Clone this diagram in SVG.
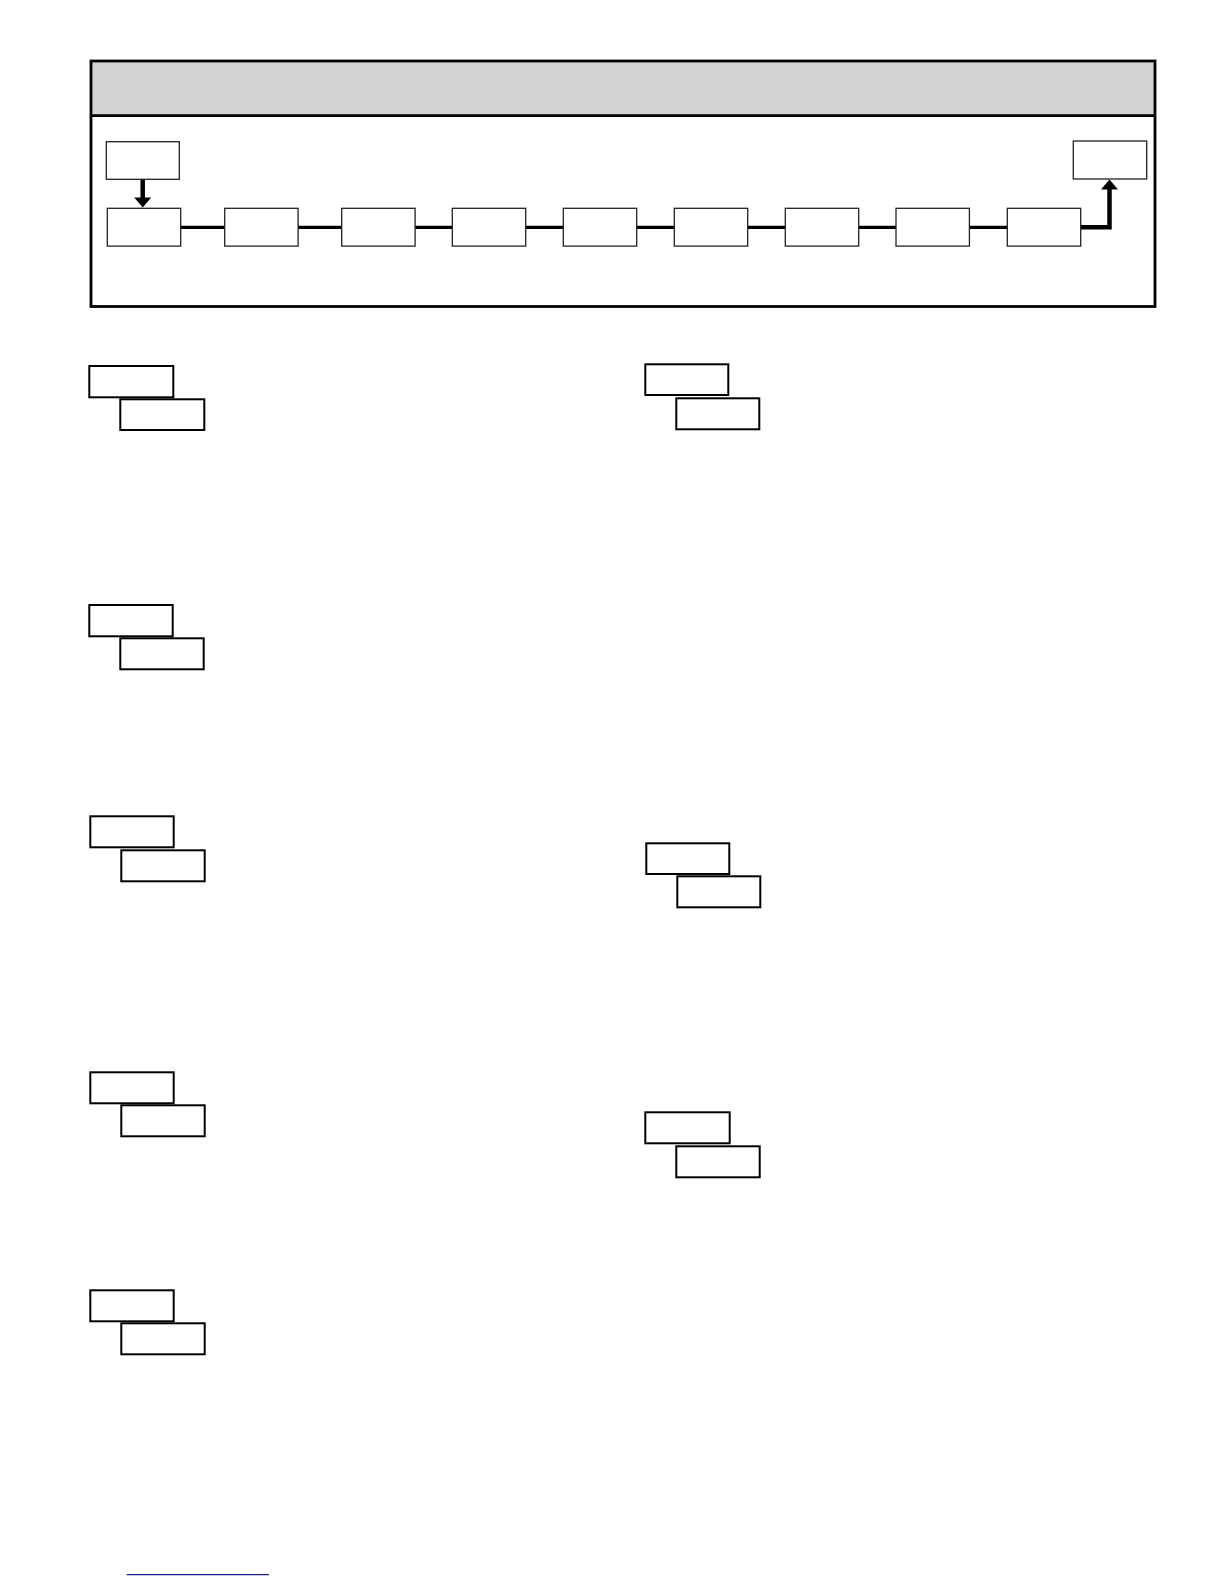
<svg xmlns="http://www.w3.org/2000/svg" width="1224" height="1584" viewBox="0 0 1224 1584">
<style>
.flow{fill:#fff;stroke:#222;stroke-width:1.3}
.disp{fill:#fff;stroke:#000;stroke-width:2}
.conn{fill:none;stroke:#000;stroke-width:3.2}
.arr{fill:none;stroke:#000;stroke-width:4.5}
</style>
<defs>
<marker id="ah" viewBox="0 0 10 17" refX="2" refY="8.5" markerWidth="10" markerHeight="17" orient="auto" markerUnits="userSpaceOnUse" overflow="visible">
<path d="M0,0 L10,8.5 L0,17 z" fill="#000"/>
</marker>
</defs>
<rect width="1224" height="1584" fill="#fff"/>
<g id="frame">
<rect x="91" y="61" width="1064" height="55" fill="#d1d2d4"/>
<rect x="91" y="61" width="1064" height="245.5" fill="none" stroke="#000" stroke-width="2.8"/>
<line x1="91" y1="115.7" x2="1155" y2="115.7" stroke="#000" stroke-width="2.8"/>
</g>
<g id="connectors">
<path class="arr" d="M142.7,179.3 V199.5" marker-end="url(#ah)"/>
<path class="conn" d="M180.7,227.3 H224.7 M298.1,227.3 H341.7 M415.1,227.3 H452.3 M525.7,227.3 H563.3 M636.7,227.3 H674.3 M747.7,227.3 H785.3 M858.7,227.3 H896 M969.4,227.3 H1007.3"/>
<path class="arr" d="M1080.7,227.3 H1109.5 V187.5" marker-end="url(#ah)"/>
</g>
<g id="n-start"><rect class="flow" x="106.3" y="141.7" width="73" height="37.6"/></g>
<g id="n-end"><rect class="flow" x="1073.3" y="141" width="73.4" height="38"/></g>
<g id="n-r1"><rect class="flow" x="107.3" y="208.3" width="73.4" height="37.8"/></g>
<g id="n-r2"><rect class="flow" x="224.7" y="208.3" width="73.4" height="37.8"/></g>
<g id="n-r3"><rect class="flow" x="341.7" y="208.3" width="73.4" height="37.8"/></g>
<g id="n-r4"><rect class="flow" x="452.3" y="208.3" width="73.4" height="37.8"/></g>
<g id="n-r5"><rect class="flow" x="563.3" y="208.3" width="73.4" height="37.8"/></g>
<g id="n-r6"><rect class="flow" x="674.3" y="208.3" width="73.4" height="37.8"/></g>
<g id="n-r7"><rect class="flow" x="785.3" y="208.3" width="73.4" height="37.8"/></g>
<g id="n-r8"><rect class="flow" x="896" y="208.3" width="73.4" height="37.8"/></g>
<g id="n-r9"><rect class="flow" x="1007.3" y="208.3" width="73.4" height="37.8"/></g>
<g id="p-l1"><rect class="disp" x="89.3" y="366" width="84" height="31.3"/><rect class="disp" x="120.3" y="399.3" width="84" height="30.7"/></g>
<g id="p-l2"><rect class="disp" x="89.3" y="605" width="83.4" height="31.3"/><rect class="disp" x="120.3" y="638.3" width="83.4" height="31"/></g>
<g id="p-l3"><rect class="disp" x="90.3" y="816.3" width="83.4" height="31"/><rect class="disp" x="121.3" y="850.3" width="83.4" height="31"/></g>
<g id="p-l4"><rect class="disp" x="90.3" y="1072.3" width="83.4" height="31"/><rect class="disp" x="121.3" y="1105.3" width="83.4" height="31"/></g>
<g id="p-l5"><rect class="disp" x="90.3" y="1290.3" width="83.4" height="31"/><rect class="disp" x="121.3" y="1323.3" width="83.4" height="31"/></g>
<g id="p-r1"><rect class="disp" x="645.3" y="364.3" width="83" height="30.7"/><rect class="disp" x="676.3" y="398.3" width="83" height="31"/></g>
<g id="p-r2"><rect class="disp" x="646.3" y="843.3" width="83" height="30.7"/><rect class="disp" x="677.3" y="876.3" width="83" height="31"/></g>
<g id="p-r3"><rect class="disp" x="645.3" y="1112.3" width="84.4" height="31"/><rect class="disp" x="676.3" y="1146.3" width="83.4" height="31"/></g>
<line x1="126.7" y1="1574.7" x2="269" y2="1574.7" stroke="#1c1c8a" stroke-width="1.2"/>
</svg>
